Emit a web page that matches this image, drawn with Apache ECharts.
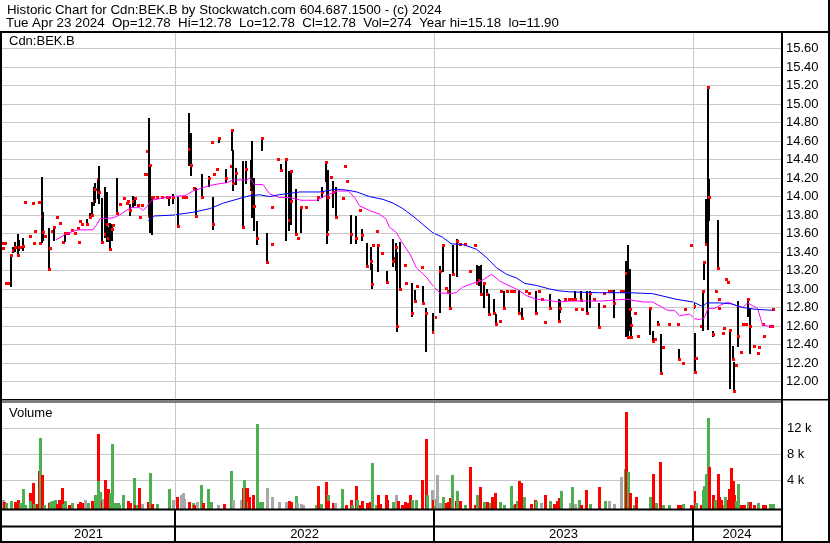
<!DOCTYPE html>
<html><head><meta charset="utf-8">
<script src="https://cdn.jsdelivr.net/npm/echarts@6/dist/echarts.min.js"></script>
<style>html,body{margin:0;padding:0;background:#fff}#c{width:830px;height:543px}</style>
</head><body><div id="c"></div>
<script>
// ---------- text ----------
const titleLine1 = 'Historic Chart for Cdn:BEK.B by Stockwatch.com 604.687.1500 - (c) 2024';
const titleLine2 = 'Tue Apr 23 2024  Op=12.78  Hi=12.78  Lo=12.78  Cl=12.78  Vol=274  Year hi=15.18  lo=11.90';
const symbolLabel = 'Cdn:BEK.B';
const volumeLabel = 'Volume';
const yearLabels = ['2021', '2022', '2023', '2024'];
const yearStarts = ['2022-01-01', '2023-01-01', '2024-01-01'];
const axisStart = '2021-05-02';
const axisEnd = '2024-05-04';
const priceMin = 11.8, priceMax = 15.78, priceStep = 0.2;
const volMin = 0, volMax = 16000, volStep = 4000;

// ---------- daily price marks ----------
const tradeDates = [
'2021-05-03','2021-05-04','2021-05-06','2021-05-07','2021-05-10','2021-05-14','2021-05-17','2021-05-20','2021-05-25','2021-05-26',
'2021-05-28','2021-06-01','2021-06-04','2021-06-11','2021-06-14','2021-06-16','2021-06-17','2021-06-23','2021-06-25','2021-06-28',
'2021-06-29','2021-07-01','2021-07-07','2021-07-09','2021-07-12','2021-07-14','2021-07-19','2021-07-23','2021-07-27','2021-07-30',
'2021-08-03','2021-08-09','2021-08-13','2021-08-17','2021-08-19','2021-08-20','2021-08-23','2021-08-30','2021-09-03','2021-09-06',
'2021-09-08','2021-09-10','2021-09-15','2021-09-16','2021-09-20','2021-09-24','2021-09-27','2021-09-28','2021-10-01','2021-10-04',
'2021-10-06','2021-10-11','2021-10-15','2021-10-21','2021-10-25','2021-10-27','2021-10-29','2021-11-03','2021-11-05','2021-11-09',
'2021-11-12','2021-11-15','2021-11-19','2021-11-22','2021-11-23','2021-11-25','2021-11-26','2021-11-29','2021-12-01','2021-12-06',
'2021-12-13','2021-12-20','2021-12-23','2021-12-29','2022-01-05','2022-01-12','2022-01-17','2022-01-20','2022-01-24','2022-01-28',
'2022-01-31','2022-02-08','2022-02-18','2022-02-22','2022-02-23','2022-02-25','2022-03-01','2022-03-04','2022-03-14','2022-03-21',
'2022-03-22','2022-03-24','2022-03-28','2022-04-06','2022-04-11','2022-04-18','2022-04-19','2022-04-22','2022-04-26','2022-05-03',
'2022-05-11','2022-05-17','2022-05-18','2022-05-26','2022-05-30','2022-06-06','2022-06-10','2022-06-13','2022-06-14','2022-06-20',
'2022-06-23','2022-06-27','2022-07-04','2022-07-21','2022-07-27','2022-08-01','2022-08-03','2022-08-05','2022-08-09','2022-08-12',
'2022-08-16','2022-08-26','2022-08-29','2022-08-31','2022-09-06','2022-09-13','2022-09-19','2022-09-22','2022-09-29','2022-10-04',
'2022-10-06','2022-10-07','2022-10-12','2022-10-14','2022-10-20','2022-10-26','2022-11-04','2022-11-07','2022-11-08','2022-11-10',
'2022-11-14','2022-11-21','2022-11-23','2022-12-01','2022-12-05','2022-12-08','2022-12-15','2022-12-16','2022-12-21','2022-12-30',
'2023-01-03','2023-01-10','2023-01-13','2023-01-18','2023-01-20','2023-01-23','2023-01-27','2023-02-03','2023-02-06','2023-02-13',
'2023-02-21','2023-02-28','2023-03-02','2023-03-06','2023-03-08','2023-03-13','2023-03-16','2023-03-20','2023-03-27','2023-03-29',
'2023-04-04','2023-04-06','2023-04-10','2023-04-14','2023-04-19','2023-04-24','2023-05-01','2023-05-05','2023-05-10','2023-05-15',
'2023-05-24','2023-05-29','2023-06-02','2023-06-06','2023-06-13','2023-06-26','2023-06-28','2023-07-04','2023-07-10','2023-07-14',
'2023-07-18','2023-07-20','2023-07-27','2023-07-28','2023-08-04','2023-08-09','2023-08-15','2023-08-22','2023-08-28','2023-08-29',
'2023-09-05','2023-09-08','2023-09-12','2023-09-22','2023-09-25','2023-09-29','2023-10-02','2023-10-04','2023-10-05','2023-10-06',
'2023-10-11','2023-10-16','2023-11-02','2023-11-06','2023-11-09','2023-11-13','2023-11-17','2023-11-20','2023-11-28','2023-12-11',
'2023-12-12','2023-12-18','2023-12-20','2023-12-29','2024-01-02','2024-01-04','2024-01-05','2024-01-12','2024-01-15','2024-01-17',
'2024-01-19','2024-01-22','2024-01-23','2024-01-29','2024-02-02','2024-02-05','2024-02-06','2024-02-07','2024-02-12','2024-02-14',
'2024-02-16','2024-02-20','2024-02-22','2024-02-26','2024-02-28','2024-03-01','2024-03-05','2024-03-08','2024-03-11','2024-03-14',
'2024-03-15','2024-03-19','2024-03-21','2024-03-27','2024-04-02','2024-04-03','2024-04-08','2024-04-10','2024-04-18','2024-04-22','2024-04-23'
];
const highs = [
13.44,13.50,13.50,13.06,13.06,13.37,13.46,13.51,13.60,13.53,
13.45,13.55,13.94,13.57,13.93,13.50,13.63,13.94,13.50,14.21,
13.83,13.57,13.66,13.44,13.63,13.68,13.78,13.71,13.51,13.61,
13.61,13.64,13.61,13.66,13.51,13.74,13.70,13.76,13.82,13.94,
14.10,14.15,14.19,14.33,13.98,14.10,14.05,13.67,13.71,13.70,
13.69,14.20,13.92,13.99,13.93,13.95,13.92,14.01,14.00,13.91,
13.78,13.91,14.24,14.24,14.49,14.85,14.35,14.00,14.00,14.00,
14.00,14.00,14.00,14.03,14.00,14.00,14.00,14.90,14.69,14.09,
14.09,14.24,14.22,14.59,14.00,14.24,14.30,14.63,14.30,14.33,
14.72,14.50,14.31,14.39,14.38,14.40,14.60,14.20,13.74,14.63,
13.61,13.49,13.89,14.41,14.35,14.41,14.28,14.28,14.10,14.08,
13.55,13.89,13.89,14.00,14.10,14.38,14.16,14.29,14.21,14.17,
14.10,13.98,14.33,14.17,13.80,13.79,13.85,13.65,13.50,13.45,
13.27,13.48,13.63,13.49,13.39,13.20,13.54,13.34,13.50,13.40,
13.51,13.26,13.07,13.07,12.99,13.03,13.24,13.03,12.79,12.74,
12.70,13.25,13.48,13.01,12.98,13.16,13.48,13.54,13.49,13.49,
13.19,13.48,13.26,13.25,13.26,13.07,13.00,12.95,12.89,12.73,
12.65,12.98,12.98,12.98,12.98,12.98,12.99,12.80,12.98,12.96,
12.98,12.98,12.89,12.64,12.95,12.89,12.88,12.89,12.89,12.89,
12.98,12.78,12.98,12.78,12.98,12.98,12.89,12.85,12.96,12.82,
12.98,12.98,12.99,12.98,12.98,13.30,13.48,13.22,12.70,12.48,
12.74,12.49,12.79,12.55,12.46,12.65,12.51,12.37,12.62,12.62,
12.35,12.20,12.78,13.48,12.85,12.52,12.25,12.60,12.98,13.29,
13.97,15.18,14.19,12.55,12.98,13.75,12.89,12.79,12.53,12.58,
13.11,13.08,12.56,12.38,12.21,12.18,12.87,12.32,12.62,12.62,
12.62,12.89,12.80,12.38,12.31,12.37,12.62,12.49,12.60,12.60,12.78
];
const lows = [
13.44,13.50,13.50,13.06,13.06,13.02,13.39,13.40,13.37,13.41,
13.45,13.41,13.94,13.57,13.93,13.50,13.63,13.94,13.50,13.50,
13.52,13.57,13.22,13.44,13.63,13.52,13.78,13.71,13.51,13.51,
13.61,13.64,13.61,13.66,13.51,13.74,13.70,13.68,13.75,13.79,
13.89,13.93,13.97,13.92,13.49,13.55,13.51,13.51,13.43,13.52,
13.69,13.82,13.92,13.99,13.93,13.95,13.79,13.88,13.90,13.91,
13.78,13.91,14.24,14.24,14.49,13.79,13.60,13.59,14.00,14.00,
14.00,14.00,13.90,13.92,13.68,14.00,14.00,14.33,14.22,14.09,
13.79,14.00,14.10,14.59,13.64,14.24,14.30,14.58,14.15,14.33,
14.49,14.06,14.13,13.67,14.13,14.06,13.77,13.63,13.48,14.49,
13.29,13.49,13.89,14.41,14.29,13.52,13.63,13.70,13.89,13.59,
13.55,13.61,13.89,13.96,13.98,14.15,13.49,13.63,14.21,13.88,
13.78,13.98,14.33,14.17,13.49,13.49,13.85,13.52,13.23,13.20,
13.00,13.48,13.63,13.19,13.39,13.06,13.24,13.34,13.20,12.54,
13.00,13.26,13.07,12.70,12.85,13.03,13.24,12.85,12.31,12.54,
12.70,12.74,13.19,13.01,12.98,12.79,13.16,13.13,13.49,13.49,
13.19,13.48,13.06,13.03,12.95,12.80,12.95,12.73,12.74,12.62,
12.65,12.98,12.80,12.98,12.98,12.98,12.74,12.69,12.98,12.96,
12.74,12.98,12.89,12.64,12.80,12.65,12.74,12.89,12.89,12.89,
12.89,12.78,12.86,12.78,12.74,12.80,12.89,12.59,12.96,12.82,
12.98,12.98,12.69,12.98,12.98,12.48,12.48,12.55,12.48,12.48,
12.74,12.49,12.50,12.44,12.46,12.62,12.09,12.37,12.62,12.62,
12.24,12.20,12.78,13.48,12.78,12.10,12.25,12.60,12.55,13.09,
13.49,12.55,13.74,12.49,12.98,13.23,12.89,12.79,12.53,12.58,
13.11,13.08,11.92,12.24,11.90,12.18,12.37,12.32,12.62,12.62,
12.62,12.69,12.30,12.38,12.31,12.37,12.62,12.49,12.60,12.60,12.78
];
const closes = [
13.44,13.50,13.50,13.06,13.06,13.37,13.42,13.45,13.37,13.45,
13.45,13.47,13.94,13.57,13.93,13.50,13.63,13.94,13.50,13.79,
13.62,13.57,13.22,13.44,13.63,13.67,13.78,13.71,13.51,13.61,
13.61,13.64,13.61,13.66,13.51,13.74,13.70,13.70,13.78,13.80,
13.95,14.08,14.19,14.05,13.51,13.60,13.70,13.55,13.43,13.65,
13.69,13.82,13.92,13.99,13.93,13.95,13.85,13.95,13.98,13.91,
13.78,13.91,14.24,14.24,14.49,13.79,14.34,14.00,14.00,14.00,
14.00,14.00,14.00,14.00,13.68,14.00,14.00,14.52,14.34,14.09,
13.79,14.00,14.20,14.59,13.70,14.24,14.30,14.63,14.20,14.33,
14.72,14.15,14.25,13.67,14.30,14.10,14.05,13.90,13.55,14.63,
13.29,13.49,13.89,14.41,14.29,14.41,13.75,14.28,13.95,13.59,
13.55,13.89,13.89,14.00,14.05,14.37,13.60,14.00,14.21,14.05,
13.78,13.98,14.33,14.17,13.60,13.55,13.85,13.58,13.25,13.30,
13.05,13.48,13.63,13.48,13.39,13.08,13.30,13.34,13.45,12.60,
13.00,13.26,13.07,12.74,12.87,13.03,13.24,12.85,12.74,12.54,
12.70,13.19,13.48,13.01,12.98,12.79,13.16,13.52,13.49,13.49,
13.19,13.48,13.06,13.10,12.95,13.06,12.95,12.73,12.74,12.62,
12.65,12.98,12.80,12.98,12.98,12.98,12.74,12.69,12.98,12.96,
12.74,12.98,12.89,12.64,12.80,12.65,12.80,12.89,12.89,12.89,
12.89,12.78,12.88,12.78,12.74,12.96,12.89,12.59,12.96,12.82,
12.98,12.98,12.85,12.98,12.98,13.17,12.48,12.78,12.61,12.48,
12.74,12.49,12.79,12.44,12.46,12.62,12.09,12.37,12.62,12.62,
12.24,12.20,12.78,13.48,12.82,12.10,12.25,12.60,12.98,13.29,
13.49,15.18,14.00,12.51,12.98,13.23,12.89,12.79,12.53,12.58,
13.11,13.08,12.56,12.24,11.90,12.18,12.49,12.32,12.62,12.62,
12.62,12.89,12.60,12.38,12.31,12.37,12.62,12.49,12.60,12.60,12.78
];

// ---------- moving averages ----------
const maShortDates = ['2021-07-17','2021-08-01','2021-08-17','2021-09-07','2021-09-12','2021-09-17','2021-10-06','2021-10-17','2021-10-24','2021-10-31',
'2021-11-12','2021-11-17','2021-11-22','2021-11-29','2021-12-24','2022-01-15','2022-01-26','2022-02-19','2022-03-05','2022-03-15',
'2022-03-24','2022-04-12','2022-04-16','2022-04-23','2022-05-05','2022-05-14','2022-05-28','2022-06-11','2022-06-28','2022-07-19',
'2022-08-04','2022-08-18','2022-09-02','2022-09-11','2022-09-18','2022-10-02','2022-10-16','2022-10-25','2022-10-30','2022-11-09',
'2022-11-18','2022-11-28','2022-12-07','2022-12-21','2022-12-30','2023-01-09','2023-01-23','2023-02-01','2023-02-10','2023-02-24',
'2023-03-11','2023-03-23','2023-04-03','2023-04-13','2023-04-27','2023-05-11','2023-05-25','2023-06-08','2023-06-27','2023-07-11',
'2023-08-22','2023-09-29','2023-10-22','2023-11-05','2023-11-19','2023-11-26','2023-12-06','2023-12-13','2023-12-27','2024-01-03',
'2024-01-10','2024-01-17','2024-01-22','2024-01-31','2024-02-07','2024-02-19','2024-03-02','2024-03-11','2024-03-18','2024-03-25',
'2024-04-01','2024-04-08','2024-04-22'];
const maShortValues = [13.53,13.60,13.64,13.64,13.69,13.76,13.77,13.81,13.85,13.88,
13.88,13.85,13.89,13.96,14.00,14.01,14.06,14.12,14.14,14.15,
14.18,14.18,14.20,14.13,14.13,14.03,13.99,13.99,13.96,13.96,
14.02,14.06,14.06,13.99,13.90,13.85,13.81,13.76,13.67,13.61,
13.49,13.38,13.23,13.13,13.04,12.96,12.95,12.96,13.02,13.06,
13.10,13.16,13.09,13.05,13.00,12.93,12.89,12.88,12.86,12.87,
12.87,12.89,12.86,12.86,12.80,12.77,12.77,12.71,12.73,12.68,
12.67,12.69,12.79,12.79,12.82,12.86,12.82,12.80,12.85,12.82,
12.79,12.61,12.59];
const maLongDates = ['2021-11-24','2021-12-03','2021-12-29','2022-01-26','2022-02-19','2022-03-10','2022-03-24','2022-04-16','2022-04-30','2022-05-14',
'2022-05-28','2022-06-26','2022-07-24','2022-08-16','2022-08-31','2022-09-14','2022-10-02','2022-10-21','2022-11-04','2022-11-18',
'2022-12-02','2022-12-16','2022-12-30','2023-01-13','2023-01-25','2023-02-11','2023-03-02','2023-03-16','2023-03-30','2023-04-13',
'2023-04-27','2023-05-09','2023-05-25','2023-06-13','2023-06-27','2023-07-11','2023-08-22','2023-10-04','2023-11-05','2023-12-08',
'2024-01-01','2024-01-15','2024-01-20','2024-02-07','2024-02-24','2024-03-11','2024-03-30','2024-04-23'];
const maLongValues = [13.74,13.79,13.80,13.83,13.87,13.93,13.96,14.01,14.02,14.00,
14.02,14.05,14.05,14.08,14.07,14.05,14.00,13.97,13.93,13.87,
13.79,13.70,13.61,13.56,13.49,13.48,13.43,13.34,13.23,13.16,
13.12,13.06,13.04,13.00,12.98,12.97,12.96,12.96,12.95,12.89,
12.86,12.81,12.85,12.85,12.84,12.80,12.78,12.77];

// ---------- volume (dir: 1 up, -1 down, 0 unchanged) ----------
const volDates = [
'2021-05-04','2021-05-05','2021-05-07','2021-05-14','2021-05-20','2021-05-25','2021-05-27','2021-05-31','2021-06-04','2021-06-10',
'2021-06-11','2021-06-14','2021-06-16','2021-06-21','2021-06-23','2021-06-25','2021-06-28','2021-06-30','2021-07-07','2021-07-09',
'2021-07-12','2021-07-14','2021-07-16','2021-07-19','2021-07-22','2021-07-26','2021-07-27','2021-07-30','2021-08-05','2021-08-09',
'2021-08-17','2021-08-20','2021-08-23','2021-08-27','2021-08-31','2021-09-06','2021-09-08','2021-09-10','2021-09-14','2021-09-15',
'2021-09-17','2021-09-20','2021-09-22','2021-09-24','2021-09-27','2021-09-29','2021-10-01','2021-10-04','2021-10-08','2021-10-12',
'2021-10-14','2021-10-19','2021-10-27','2021-10-29','2021-11-04','2021-11-05','2021-11-08','2021-11-11','2021-11-16','2021-11-24',
'2021-11-26','2021-11-30','2021-12-06','2021-12-23','2021-12-29','2022-01-04','2022-01-10','2022-01-12','2022-01-13','2022-01-20',
'2022-01-26','2022-01-28','2022-02-01','2022-02-07','2022-02-10','2022-02-17','2022-02-21','2022-03-03','2022-03-11','2022-03-21',
'2022-03-24','2022-04-04','2022-04-06','2022-04-08','2022-04-11','2022-04-12','2022-04-14','2022-04-15','2022-04-21','2022-04-26',
'2022-04-29','2022-05-03','2022-05-10','2022-05-17','2022-05-27','2022-06-06','2022-06-10','2022-06-14','2022-06-20','2022-06-22',
'2022-06-27','2022-06-30','2022-07-19','2022-07-21','2022-07-26','2022-08-02','2022-08-04','2022-08-05','2022-08-12','2022-08-15',
'2022-08-24','2022-08-30','2022-09-06','2022-09-08','2022-09-13','2022-09-15','2022-09-19','2022-09-21','2022-09-28','2022-10-03',
'2022-10-05','2022-10-11','2022-10-14','2022-10-17','2022-10-25','2022-10-27','2022-11-04','2022-11-09','2022-11-11','2022-11-17',
'2022-11-21','2022-11-24','2022-11-28','2022-12-01','2022-12-06','2022-12-15','2022-12-20','2022-12-22','2022-12-29','2022-12-30',
'2023-01-03','2023-01-05','2023-01-09','2023-01-13','2023-01-18','2023-01-20','2023-01-23','2023-01-26','2023-02-01','2023-02-03',
'2023-02-06','2023-02-13','2023-02-21','2023-02-28','2023-03-02','2023-03-07','2023-03-13','2023-03-17','2023-03-21','2023-03-24',
'2023-03-28','2023-04-04','2023-04-10','2023-04-19','2023-04-24','2023-04-25','2023-04-28','2023-05-01','2023-05-03','2023-05-08',
'2023-05-18','2023-05-23','2023-05-24','2023-06-01','2023-06-07','2023-06-14','2023-06-19','2023-06-23','2023-06-26','2023-06-29',
'2023-07-11','2023-07-14','2023-07-18','2023-07-24','2023-07-27','2023-08-03','2023-08-09','2023-08-22','2023-08-30','2023-09-05',
'2023-09-11','2023-09-21','2023-09-22','2023-09-27','2023-09-29','2023-10-02','2023-10-04','2023-10-10','2023-10-13','2023-11-01',
'2023-11-06','2023-11-10','2023-11-16','2023-11-20','2023-11-28','2023-12-11','2023-12-14','2023-12-18','2023-12-29','2024-01-03',
'2024-01-05','2024-01-12','2024-01-15','2024-01-17','2024-01-19','2024-01-22','2024-01-23','2024-01-29','2024-02-01','2024-02-05',
'2024-02-07','2024-02-09','2024-02-13','2024-02-15','2024-02-19','2024-02-21','2024-02-23','2024-02-26','2024-02-28','2024-03-01',
'2024-03-04','2024-03-05','2024-03-08','2024-03-13','2024-03-18','2024-03-19','2024-03-21','2024-03-22','2024-03-27','2024-04-02',
'2024-04-08','2024-04-12','2024-04-19','2024-04-22','2024-04-23'
];
const volumes = [
920,560,400,720,560,920,400,2560,150,2000,
810,3480,300,300,5320,10530,4750,150,400,600,
700,800,1000,300,920,2760,300,760,200,400,
300,600,400,900,400,720,400,1690,11140,3790,
2100,720,1050,3990,1400,2600,2000,9500,450,450,
150,1690,720,400,4290,150,100,2760,300,560,
5010,300,300,2560,920,1330,1690,1950,1100,560,
410,150,560,3220,400,2610,560,150,300,5320,
920,920,2760,3990,2700,2700,560,1400,1690,12680,
560,560,2760,1330,560,560,810,560,1480,450,
300,100,150,3070,300,3630,1690,810,410,410,
2610,150,920,150,3070,920,150,810,410,560,
6590,150,1690,300,1690,920,560,1690,810,150,
560,410,1690,920,920,3990,10270,1690,2450,920,
1100,4750,410,1330,410,560,1180,4750,810,2300,
810,150,5930,150,1690,2860,560,660,410,1400,
2000,560,150,3020,150,300,720,3780,3480,1330,
300,920,720,410,1690,720,300,720,1180,2250,
410,2860,300,970,150,2510,300,2860,720,810,
300,4500,410,5670,14520,5200,2000,150,1330,1330,
4910,410,6800,100,100,150,150,300,100,2300,
410,150,2450,3110,4900,13490,6030,1690,920,4900,
1330,920,150,1330,920,2610,5830,3780,1690,720,
3330,720,150,150,560,560,560,300,100,410,
100,150,300,150,274
];
const volDirs = [
0,-1,1,1,-1,-1,1,1,1,-1,
1,-1,1,-1,-1,1,-1,1,-1,1,
1,1,1,-1,-1,-1,1,1,-1,1,
-1,-1,-1,0,1,-1,-1,1,-1,1,
1,-1,0,-1,-1,-1,1,1,1,1,
1,1,-1,-1,1,-1,1,-1,0,-1,
1,-1,1,1,0,-1,0,0,0,-1,
1,-1,0,1,-1,1,1,0,-1,1,
0,0,-1,1,-1,-1,1,-1,-1,1,
1,1,0,0,0,0,-1,-1,1,0,
0,0,1,-1,1,-1,1,-1,-1,0,
1,-1,-1,1,-1,1,-1,-1,-1,-1,
1,1,-1,-1,-1,-1,1,0,-1,-1,
-1,-1,-1,1,1,-1,-1,1,0,-1,
1,0,0,1,-1,-1,-1,1,-1,1,
-1,1,-1,-1,1,-1,1,-1,1,-1,
-1,1,1,1,1,-1,1,-1,-1,1,
-1,-1,1,0,-1,1,-1,-1,-1,1,
0,1,0,1,-1,-1,1,-1,1,0,
0,0,0,1,-1,1,-1,1,-1,1,
-1,1,-1,1,1,-1,-1,1,-1,-1,
1,-1,1,1,1,1,-1,-1,1,-1,
-1,-1,1,1,-1,-1,-1,-1,-1,1,
1,1,-1,-1,0,1,-1,-1,-1,1,
-1,-1,1,1,1
];

// ---------- build ----------
const toMs = s => { const p = s.split('-'); return new Date(+p[0], +p[1] - 1, +p[2]).getTime(); };
const FONT = '"Liberation Sans", Arial, sans-serif';
const GRID_LINE = '#c8c8c8';
const dirColor = { '1': '#4cb050', '-1': '#ff0000', '0': '#a8a8a8' };

const priceData = tradeDates.map((d, i) => [toMs(d), highs[i], lows[i], closes[i]]);
const volData = volDates.map((d, i) => [toMs(d), volumes[i], volDirs[i]]);
const maShort = maShortDates.map((d, i) => [toMs(d), maShortValues[i]]);
const maLong = maLongDates.map((d, i) => [toMs(d), maLongValues[i]]);
const bounds = [axisStart].concat(yearStarts, [axisEnd]).map(toMs);
const yearLabelData = yearLabels.map((y, i) => [(bounds[i] + bounds[i + 1]) / 2, 0.22, i]);
const yearLineData = yearStarts.map(d => ({ xAxis: toMs(d) }));

const chart = echarts.init(document.getElementById('c'), null, { renderer: 'canvas' });
const xMin = toMs(axisStart), xMax = toMs(axisEnd);
const mkX = (g) => ({ type: 'time', gridIndex: g, min: xMin, max: xMax, axisLine: { show: false }, axisTick: { show: false }, axisLabel: { show: false }, splitLine: { show: false } });

const option = {
  animation: false,
  backgroundColor: '#ffffff',
  textStyle: { fontFamily: FONT },
  grid: [
    { left: 2, top: 32, width: 779, height: 368 },
    { left: 2, top: 402, width: 779, height: 104 },
    { left: 2, top: 509, width: 779, height: 32 }
  ],
  xAxis: [mkX(0), mkX(1), mkX(2)],
  yAxis: [
    { type: 'value', gridIndex: 0, position: 'right', min: priceMin, max: priceMax, interval: priceStep,
      axisLine: { show: false }, axisTick: { show: false },
      axisLabel: { color: '#000', fontSize: 13, fontFamily: FONT, margin: 5, showMinLabel: false, showMaxLabel: false, formatter: v => v.toFixed(2) },
      splitLine: { show: true, showMinLine: false, showMaxLine: false, lineStyle: { color: GRID_LINE, width: 1 } } },
    { type: 'value', gridIndex: 1, position: 'right', min: volMin, max: volMax, interval: volStep,
      axisLine: { show: false }, axisTick: { show: false },
      axisLabel: { color: '#000', fontSize: 13, fontFamily: FONT, margin: 6, showMinLabel: false, showMaxLabel: false, formatter: v => (v / 1000) + ' k' },
      splitLine: { show: true, showMinLine: false, showMaxLine: false, lineStyle: { color: GRID_LINE, width: 1 } } },
    { type: 'value', gridIndex: 2, min: 0, max: 1, show: false }
  ],
  series: [
    { type: 'line', xAxisIndex: 0, yAxisIndex: 0, data: [], z: 1, silent: true,
      markLine: { silent: true, symbol: 'none', label: { show: false }, lineStyle: { color: GRID_LINE, width: 1, type: 'solid' }, data: yearLineData } },
    { type: 'custom', xAxisIndex: 0, yAxisIndex: 0, z: 3, data: priceData,
      renderItem: (params, api) => {
        const t = api.value(0);
        const hi = api.coord([t, api.value(1)]);
        const lo = api.coord([t, api.value(2)]);
        const cl = api.coord([t, api.value(3)]);
        const x = Math.round(cl[0]);
        const children = [];
        if (lo[1] - hi[1] > 0.5) {
          children.push({ type: 'rect', shape: { x: x - 1, y: Math.round(hi[1]), width: 2, height: Math.max(1, Math.round(lo[1] - hi[1])) }, style: { fill: '#000' } });
        }
        children.push({ type: 'rect', shape: { x: x - 1, y: Math.round(cl[1]) - 1, width: 3, height: 3 }, style: { fill: '#ff0000' } });
        return { type: 'group', children };
      } },
    { type: 'line', xAxisIndex: 0, yAxisIndex: 0, z: 4, data: maShort, showSymbol: false, silent: true,
      lineStyle: { color: '#ff00ff', width: 1 } },
    { type: 'line', xAxisIndex: 0, yAxisIndex: 0, z: 4, data: maLong, showSymbol: false, silent: true,
      lineStyle: { color: '#0000ff', width: 1 } },
    { type: 'line', xAxisIndex: 1, yAxisIndex: 1, data: [], z: 1, silent: true,
      markLine: { silent: true, symbol: 'none', label: { show: false }, lineStyle: { color: GRID_LINE, width: 1, type: 'solid' }, data: yearLineData } },
    { type: 'custom', xAxisIndex: 1, yAxisIndex: 1, z: 3, data: volData,
      renderItem: (params, api) => {
        const top = api.coord([api.value(0), api.value(1)]);
        const base = api.coord([api.value(0), 0]);
        const x = Math.round(top[0]);
        return { type: 'rect', shape: { x: x - 1, y: Math.round(top[1]), width: 3, height: Math.round(base[1] - top[1]) + 3 },
          style: { fill: dirColor[String(api.value(2))] } };
      } },
    { type: 'custom', xAxisIndex: 2, yAxisIndex: 2, z: 3, data: yearLabelData,
      renderItem: (params, api) => {
        const p = api.coord([api.value(0), api.value(1)]);
        return { type: 'text', x: p[0], y: p[1], style: { text: yearLabels[api.value(2)], align: 'center', verticalAlign: 'middle', fill: '#000', fontSize: 13, fontFamily: FONT } };
      } },
    { type: 'line', xAxisIndex: 2, yAxisIndex: 2, data: [], z: 5, silent: true,
      markLine: { silent: true, symbol: 'none', label: { show: false }, lineStyle: { color: '#000', width: 2, type: 'solid' }, data: yearLineData } }
  ],
  graphic: [
    { type: 'text', left: 7, top: 4, z: 100, style: { text: titleLine1, fill: '#000', fontSize: 13.3, fontFamily: FONT } },
    { type: 'text', left: 6, top: 17, z: 100, style: { text: titleLine2, fill: '#000', fontSize: 13.3, fontFamily: FONT } },
    { type: 'text', left: 9, top: 35, z: 100, style: { text: symbolLabel, fill: '#000', fontSize: 13, fontFamily: FONT } },
    { type: 'text', left: 9, top: 407, z: 100, style: { text: volumeLabel, fill: '#000', fontSize: 13, fontFamily: FONT } },
    // frame
    { type: 'rect', z: 100, shape: { x: 0, y: 31, width: 830, height: 2 }, style: { fill: '#000' } },
    { type: 'rect', z: 100, shape: { x: 0, y: 31, width: 2, height: 512 }, style: { fill: '#000' } },
    { type: 'rect', z: 100, shape: { x: 828, y: 0, width: 2, height: 543 }, style: { fill: '#000' } },
    { type: 'rect', z: 100, shape: { x: 781, y: 31, width: 2, height: 512 }, style: { fill: '#000' } },
    { type: 'rect', z: 100, shape: { x: 0, y: 399, width: 830, height: 1.5 }, style: { fill: '#000' } },
    { type: 'rect', z: 100, shape: { x: 0, y: 401.5, width: 782, height: 1 }, style: { fill: '#000' } },
    { type: 'rect', z: 100, shape: { x: 0, y: 508.5, width: 782, height: 2 }, style: { fill: '#000' } },
    { type: 'rect', z: 100, shape: { x: 0, y: 525.5, width: 782, height: 2 }, style: { fill: '#000' } },
    { type: 'rect', z: 100, shape: { x: 0, y: 541, width: 830, height: 2 }, style: { fill: '#000' } }
  ]
};
chart.setOption(option);
</script>
</body></html>
